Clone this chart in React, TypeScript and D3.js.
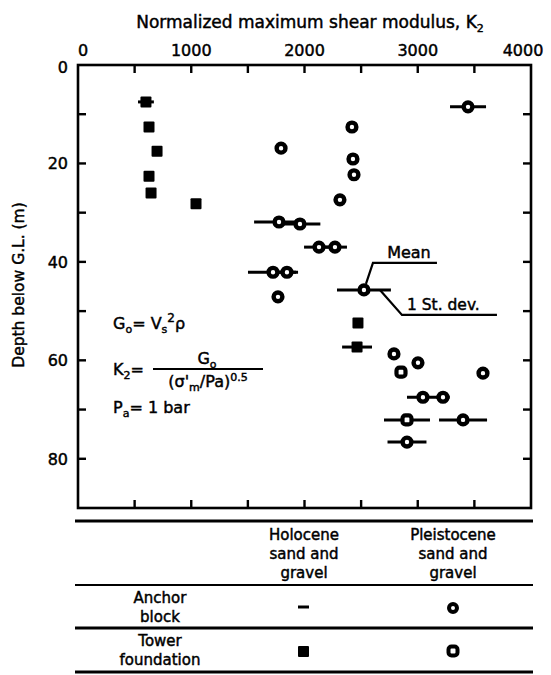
import React from 'react';
import * as d3 from 'd3';

// tower foundation, Holocene (filled squares)
const holoTowerK = [600, 627, 698, 627, 645, 1042, 2472, 2464];
const holoTowerDepth = [7.5, 12.6, 17.5, 22.6, 26.0, 28.2, 52.4, 57.3];
const holoTowerSd = [70, 0, 0, 0, 0, 0, 0, 132];

// anchor block (open circles)
const anchorK = [1793, 1775, 1960, 2128, 2269, 1722, 1845, 1766, 2419, 2428, 2437, 2313, 3444, 2790, 3002, 3576, 3046, 3223, 3400, 2905];
const anchorDepth = [16.9, 31.9, 32.3, 37.0, 37.0, 42.1, 42.1, 47.1, 12.6, 19.1, 22.3, 27.4, 8.5, 58.7, 60.5, 62.6, 67.5, 67.5, 72.1, 76.6];
const anchorSd = [0, 220, 180, 132, 106, 221, 80, 0, 0, 0, 0, 0, 159, 0, 0, 0, 141, 60, 212, 172];

// tower foundation, Pleistocene (open squares)
const pleiTowerK = [2852, 2905];
const pleiTowerDepth = [62.4, 72.1];
const pleiTowerSd = [0, 203];

// annotated mean point with 1 st. dev.
const meanK = 2525;
const meanDepth = 45.7;
const meanSd = 238;

const xTicks = [0, 500, 1000, 1500, 2000, 2500, 3000, 3500, 4000];
const xLabels = [0, 1000, 2000, 3000, 4000];
const yTicks = [10, 20, 30, 40, 50, 60, 70, 80];
const yLabels = [0, 20, 40, 60, 80];

const FONT = '"DejaVu Sans", "Liberation Sans", Arial, sans-serif';

const App = () => {
  const left = 78, right = 531, top = 65, bottom = 508;
  const x = d3.scaleLinear().domain([0, 4000]).range([left, right]);
  const y = d3.scaleLinear().domain([0, 90]).range([top, bottom]);
  const tick = 8;

  const bar = (k: number, d: number, sd: number, key: string) =>
    sd > 0 ? (
      <line key={key} x1={x(k - sd)} x2={x(k + sd)} y1={y(d)} y2={y(d)} stroke="#000" strokeWidth={3} />
    ) : null;

  const circle = (k: number, d: number, key: string) => (
    <circle key={key} cx={x(k)} cy={y(d)} r={4.4} fill="#fff" stroke="#000" strokeWidth={4.4} />
  );

  const mx = x(meanK), my = y(meanDepth);

  return (
    <svg width={551} height={675} style={{ position: 'absolute', left: 0, top: 0, background: '#fff' }}
      fontFamily={FONT} fill="#000">
      <style>{'text { stroke: #000; stroke-width: 0.45px; }'}</style>
      {/* title */}
      <text x={310} y={28} fontSize={17} textAnchor="middle">
        Normalized maximum shear modulus, K<tspan fontSize={11} dy={4}>2</tspan>
      </text>

      {/* x tick labels */}
      {xLabels.map(v => (
        <text key={'xl' + v} x={Math.max(left + 5, Math.min(right - 8, x(v)))} y={56} fontSize={16} textAnchor="middle">{v}</text>
      ))}
      {/* y tick labels */}
      {yLabels.map(v => (
        <text key={'yl' + v} x={68} y={y(v) + (v === 0 ? 8 : 6)} fontSize={16} textAnchor="end">{v}</text>
      ))}
      <text transform={`translate(24,${285}) rotate(-90)`} fontSize={15.5} textAnchor="middle">Depth below G.L. (m)</text>

      {/* frame + ticks */}
      <rect x={left} y={top} width={right - left} height={bottom - top} fill="none" stroke="#000" strokeWidth={2.6} />
      {xTicks.slice(1, -1).map(v => (
        <g key={'xt' + v} stroke="#000" strokeWidth={2.4}>
          <line x1={x(v)} x2={x(v)} y1={top} y2={top + tick} />
          <line x1={x(v)} x2={x(v)} y1={bottom} y2={bottom - tick} />
        </g>
      ))}
      {yTicks.map(v => (
        <g key={'yt' + v} stroke="#000" strokeWidth={2.4}>
          <line x1={left} x2={left + tick} y1={y(v)} y2={y(v)} />
          <line x1={right} x2={right - tick} y1={y(v)} y2={y(v)} />
        </g>
      ))}

      {/* std dev bars */}
      {holoTowerK.map((k, i) => bar(k, holoTowerDepth[i], holoTowerSd[i], 'hb' + i))}
      {anchorK.map((k, i) => bar(k, anchorDepth[i], anchorSd[i], 'ab' + i))}
      {pleiTowerK.map((k, i) => bar(k, pleiTowerDepth[i], pleiTowerSd[i], 'pb' + i))}
      {bar(meanK, meanDepth, meanSd, 'mb')}

      {/* markers */}
      {holoTowerK.map((k, i) => (
        <rect key={'hs' + i} x={x(k) - 5.5} y={y(holoTowerDepth[i]) - 5.5} width={11} height={11} rx={1} fill="#000" />
      ))}
      {anchorK.map((k, i) => circle(k, anchorDepth[i], 'ac' + i))}
      {pleiTowerK.map((k, i) => (
        <rect key={'ps' + i} x={x(k) - 4.5} y={y(pleiTowerDepth[i]) - 4.5} width={9} height={9} rx={3}
          fill="#fff" stroke="#000" strokeWidth={4.2} />
      ))}
      {circle(meanK, meanDepth, 'mc')}

      {/* mean / st dev annotation */}
      <polyline points={`${mx + 2},${my - 6} ${mx + 9},${my - 27} ${mx + 73},${my - 27}`} fill="none" stroke="#000" strokeWidth={2.2} />
      <text x={mx + 45} y={my - 32} fontSize={16} textAnchor="middle">Mean</text>
      <polyline points={`${mx + 16},${my} ${mx + 38},${my + 25} ${mx + 133},${my + 25}`} fill="none" stroke="#000" strokeWidth={2.2} />
      <text x={mx + 43} y={my + 20} fontSize={15.5}>1 St. dev.</text>

      {/* formulas */}
      <g fontSize={16}>
        <text x={113} y={329}>
          G<tspan fontSize={11} dy={4}>o</tspan><tspan dy={-4}>= V</tspan><tspan fontSize={11} dy={4}>s</tspan><tspan fontSize={12} dy={-11}>2</tspan><tspan dy={7}>ρ</tspan>
        </text>
        <text x={113} y={375}>
          K<tspan fontSize={11} dy={4}>2</tspan><tspan dy={-4}>=</tspan>
        </text>
        <line x1={153} x2={263} y1={369} y2={369} stroke="#000" strokeWidth={2} />
        <text x={207} y={364} textAnchor="middle">
          G<tspan fontSize={11} dy={4}>o</tspan>
        </text>
        <text x={208} y={387} textAnchor="middle">
          (σ'<tspan fontSize={11} dy={4}>m</tspan><tspan dy={-4}>/Pa)</tspan><tspan fontSize={11} dy={-6}>0.5</tspan>
        </text>
        <text x={113} y={413}>
          P<tspan fontSize={11} dy={4}>a</tspan><tspan dy={-4}>= 1 bar</tspan>
        </text>
      </g>

      {/* legend table */}
      <g stroke="#000">
        <line x1={75} x2={533} y1={521} y2={521} strokeWidth={2.8} />
        <line x1={75} x2={533} y1={585} y2={585} strokeWidth={2} />
        <line x1={75} x2={533} y1={628} y2={628} strokeWidth={2.8} />
        <line x1={75} x2={533} y1={672} y2={672} strokeWidth={2.8} />
      </g>
      <g fontSize={15} textAnchor="middle">
        <text x={304} y={540}>Holocene</text>
        <text x={304} y={559}>sand and</text>
        <text x={304} y={578}>gravel</text>
        <text x={453} y={540}>Pleistocene</text>
        <text x={453} y={559}>sand and</text>
        <text x={453} y={578}>gravel</text>
        <text x={160} y={603}>Anchor</text>
        <text x={160} y={622}>block</text>
        <text x={160} y={646}>Tower</text>
        <text x={160} y={665}>foundation</text>
      </g>
      <line x1={298} x2={309} y1={607} y2={607} stroke="#000" strokeWidth={3} />
      <circle cx={453} cy={608} r={4} fill="#fff" stroke="#000" strokeWidth={4} />
      <rect x={298} y={646} width={11} height={11} rx={1} fill="#000" />
      <rect x={448.5} y={646.5} width={9} height={9} rx={3} fill="#fff" stroke="#000" strokeWidth={4} />
    </svg>
  );
};

export default App;
